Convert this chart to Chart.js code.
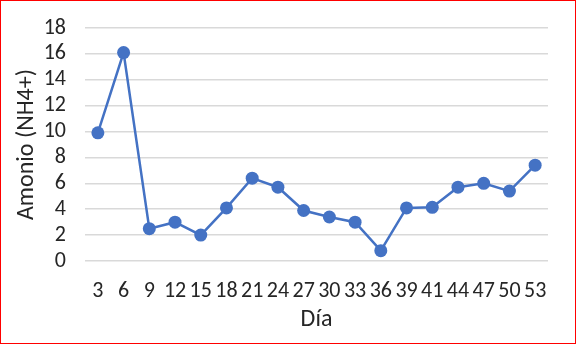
<!DOCTYPE html>
<html>
<head>
<meta charset="utf-8">
<script src="https://cdn.jsdelivr.net/npm/chart.js@4.4.1/dist/chart.umd.min.js"></script>
<style>
  html, body { margin: 0; padding: 0; background: #fff; }
  #wrap { width: 574px; height: 342px; border: 1px solid #ff0000; }
</style>
</head>
<body>
<div id="wrap"><canvas id="lineChart" width="574" height="342"></canvas></div>
<script>
// datos
var dias = ["3", "6", "9", "12", "15", "18", "21", "24", "27", "30", "33", "36", "39", "41", "44", "47", "50", "53"];
var amonio = [9.9, 16.1, 2.5, 3.0, 2.0, 4.1, 6.4, 5.7, 3.9, 3.4, 3.0, 0.8, 4.1, 4.15, 5.7, 6.0, 5.4, 7.4];
var yTicks = [0, 2, 4, 6, 8, 10, 12, 14, 16, 18];

var fuente = "Carlito, Calibri, 'Liberation Sans', sans-serif";
var ctx = document.getElementById("lineChart").getContext('2d');
var myLineChart = new Chart(ctx, {
  type: 'line',
  data: {
    labels: dias,
    datasets: [{
      data: amonio,
      borderColor: "#4472C4",
      backgroundColor: "#4472C4",
      borderWidth: 2.5,
      pointRadius: 6.5,
      pointBorderWidth: 0,
      pointHoverRadius: 6.5,
      tension: 0
    }]
  },
  options: {
    responsive: false,
    animation: false,
    layout: { padding: { top: 27, right: 27, bottom: 9, left: 10 } },
    plugins: {
      legend: { display: false },
      tooltip: { enabled: false }
    },
    scales: {
      x: {
        offset: true,
        grid: { display: false, drawTicks: false },
        border: { display: false },
        afterFit: function (axis) {
          axis.height = 73;
          axis.paddingLeft = 0;
          axis.paddingRight = 0;
        },
        ticks: {
          autoSkip: false,
          maxRotation: 0,
          color: "#262626",
          padding: 17,
          font: { family: fuente, size: 22 }
        },
        title: {
          display: true,
          text: "Día",
          color: "#262626",
          padding: { top: 1, bottom: 0 },
          font: { family: fuente, size: 24 }
        }
      },
      y: {
        min: 0,
        max: 18,
        afterBuildTicks: function (axis) {
          axis.ticks = yTicks.map(function (v) { return { value: v }; });
        },
        afterFit: function (axis) {
          axis.width = 74;
          axis.paddingTop = 0;
          axis.paddingBottom = 0;
        },
        grid: { color: "#d9d9d9", lineWidth: 1.5, drawTicks: false },
        border: { display: false },
        ticks: {
          autoSkip: false,
          color: "#262626",
          padding: 19,
          font: { family: fuente, size: 22 }
        },
        title: {
          display: true,
          text: "Amonio (NH4+)",
          color: "#262626",
          padding: { top: 2, bottom: 2 },
          font: { family: fuente, size: 24 }
        }
      }
    }
  }
});
</script>
</body>
</html>
